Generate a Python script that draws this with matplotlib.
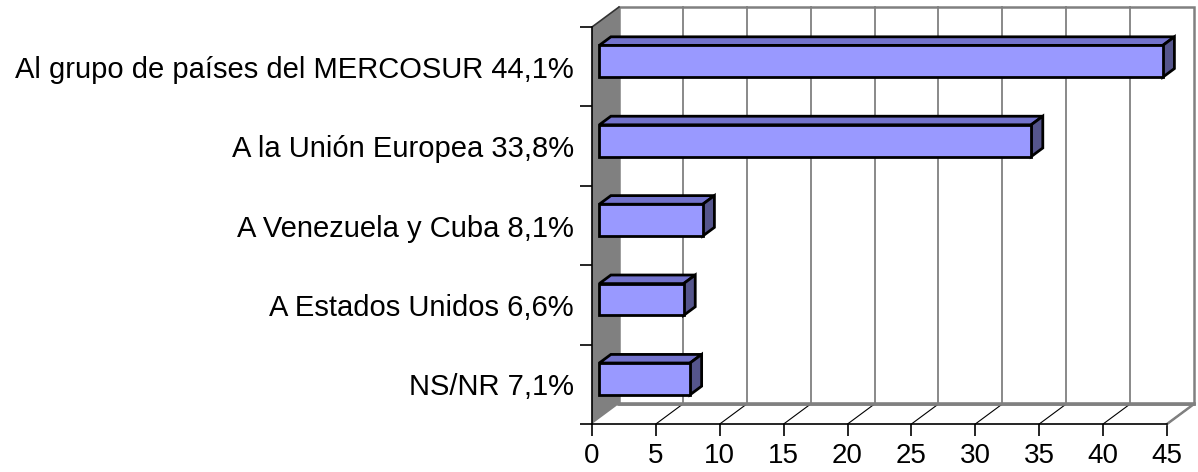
import matplotlib
matplotlib.use('Agg')
import matplotlib.pyplot as plt
from matplotlib.patches import Polygon

plt.rcParams['font.family'] = ['Liberation Sans', 'DejaVu Sans']

# data
categories = ['Al grupo de países del MERCOSUR 44,1%',
              'A la Unión Europea 33,8%',
              'A Venezuela y Cuba 8,1%',
              'A Estados Unidos 6,6%',
              'NS/NR 7,1%']
values = [44.1, 33.8, 8.1, 6.6, 7.1]
xticks = [0, 5, 10, 15, 20, 25, 30, 35, 40, 45]

W, H = 1198, 472
fig = plt.figure(figsize=(W / 100, H / 100), dpi=100)

# front plane in pixels: x 592..1167, y 27..424
ax = fig.add_axes([592 / W, 1 - 424 / H, (1167 - 592) / W, (424 - 27) / H])
xmax = 45
n = len(categories)
ax.set_xlim(0, xmax)
ax.set_ylim(n - 0.5, -0.5)

# depth offset (data units)
DX = 27 / (575 / xmax)
DY = 20 / (397 / n)
ytop, ybot = -0.5, n - 0.5

# left wall
ax.add_patch(Polygon([(0, ytop), (DX, ytop - DY), (DX, ybot - DY), (0, ybot)],
                     closed=True, facecolor='#808080', edgecolor='none', zorder=1, clip_on=False))
ax.plot([0, DX], [ytop, ytop - DY], color='#333333', lw=1.2, zorder=2, clip_on=False)
# back wall
ax.add_patch(Polygon([(DX, ytop - DY), (xmax + DX, ytop - DY), (xmax + DX, ybot - DY), (DX, ybot - DY)],
                     closed=True, facecolor='white', edgecolor='#808080', lw=1.8, zorder=1, clip_on=False))
ax.plot([DX, xmax + DX], [ybot - DY, ybot - DY], color='#808080', lw=2.6, zorder=2, clip_on=False)
# floor right edge
ax.plot([xmax, xmax + DX], [ybot, ybot - DY], color='#808080', lw=1.8, zorder=2, clip_on=False)

# gridlines on back wall and floor
for t in xticks[1:-1]:
    ax.plot([t + DX, t + DX], [ybot - DY, ytop - DY], color='#808080', lw=1.3, zorder=1.5, clip_on=False)
for t in xticks[1:]:
    ax.plot([t, t + DX], [ybot, ybot - DY], color='black', lw=0.8, zorder=1.5, clip_on=False)

# bars
f0, f1 = 0.27, 0.70
bh = 0.4
front_c, top_c, side_c = '#9999FF', '#7373CC', '#55558C'
for i, v in enumerate(values):
    x0 = f0 * DX
    y0 = i - f0 * DY
    ddx = (f1 - f0) * DX
    ddy = (f1 - f0) * DY
    yt, yb = y0 - bh / 2, y0 + bh / 2
    top = [(x0, yt), (x0 + ddx, yt - ddy), (x0 + v + ddx, yt - ddy), (x0 + v, yt)]
    side = [(x0 + v, yt), (x0 + v + ddx, yt - ddy), (x0 + v + ddx, yb - ddy), (x0 + v, yb)]
    front = [(x0, yt), (x0 + v, yt), (x0 + v, yb), (x0, yb)]
    for pts, c in [(top, top_c), (side, side_c), (front, front_c)]:
        ax.add_patch(Polygon(pts, closed=True, facecolor=c, edgecolor='black', lw=2.0,
                             joinstyle='miter', zorder=3, clip_on=False))

# axes
for s in ['top', 'right']:
    ax.spines[s].set_visible(False)
for s in ['left', 'bottom']:
    ax.spines[s].set_linewidth(1.2)
    ax.spines[s].set_zorder(2.5)
ax.set_facecolor('none')

ax.set_xticks(xticks)
ax.set_xticklabels([str(t) for t in xticks], fontsize=20)
ax.tick_params(axis='x', length=8.6, width=1.2, pad=5, direction='out')

ax.set_yticks(range(n))
ax.set_yticklabels(categories, fontsize=21)
ax.set_yticks([i - 0.5 for i in range(n + 1)], minor=True)
ax.tick_params(axis='y', which='major', length=0, pad=13)
ax.tick_params(axis='y', which='minor', length=8.6, width=1.2, direction='out')

fig.savefig('out.png', dpi=100)
